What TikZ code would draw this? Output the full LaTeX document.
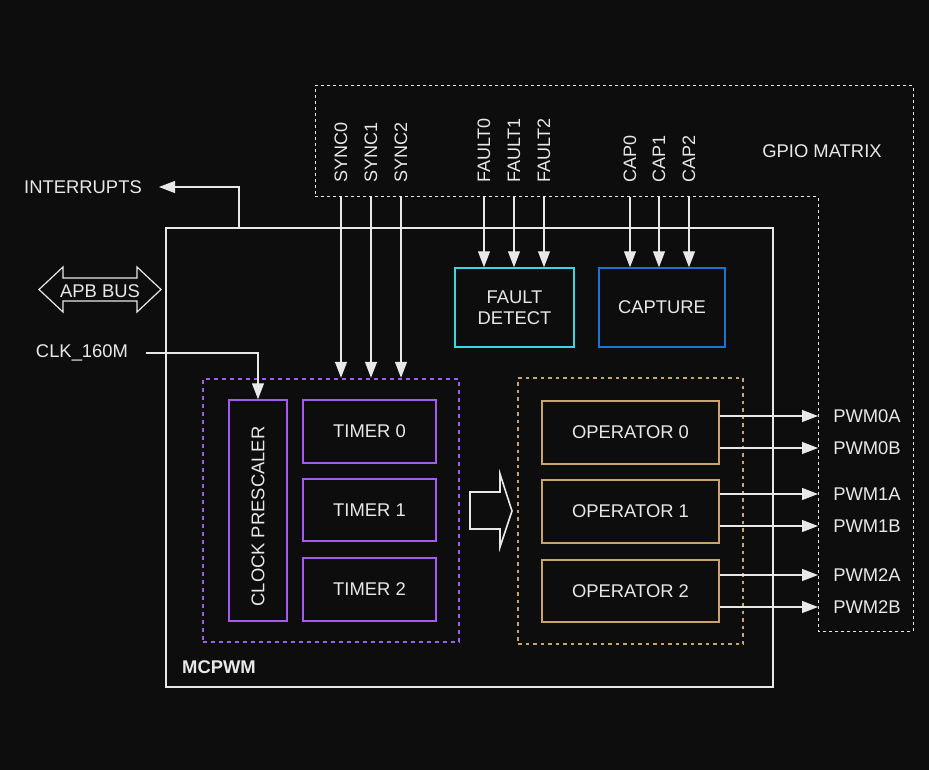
\documentclass[tikz,border=0pt]{standalone}
\usepackage{fontspec}
\setmainfont{Liberation Sans}
\usetikzlibrary{arrows.meta,calc}
\definecolor{bg}{HTML}{0D0D0D}
\definecolor{fg}{HTML}{E8E8E8}
\definecolor{purp}{HTML}{A35CF0}
\definecolor{cyanb}{HTML}{3ED6DE}
\definecolor{blueb}{HTML}{1E74CC}
\definecolor{tanb}{HTML}{C9A46E}
\begin{document}
\begin{tikzpicture}[x=1pt,y=-1pt, font=\fontsize{18.4}{21}\selectfont, text=fg,
  line/.style={draw=fg, line width=1.2pt},
  arr/.style={line, -{Triangle[length=16pt,width=12pt]}},
  blk/.style={draw=#1, line width=1.5pt, inner sep=0pt, align=center},
  dbox/.style={draw=#1, line width=2.4pt, dash pattern=on 4pt off 4pt, inner sep=0pt},
  gpio/.style={draw=fg, line width=1pt, dash pattern=on 3pt off 3pt},
  lbl/.style={inner sep=0pt},
  vlbl/.style={inner sep=0pt, rotate=90, anchor=west, font=\fontsize{18}{21}\selectfont},
]
\fill[bg] (0,0) rectangle (929,770);
\useasboundingbox (0,0) rectangle (929,770);

% GPIO matrix
\draw[gpio] (315,86) -- (913,86) -- (913,631) -- (818,631) -- (818,197) -- (315,197) -- cycle;
\node[lbl] (gpiolbl) at (822,151) {GPIO MATRIX};

% MCPWM
\node[blk=fg, minimum width=607pt, minimum height=459pt] (mcpwm) at (469.5,457.5) {};
\node[lbl, font=\fontsize{18.4}{21}\selectfont\bfseries] (mcpwmlbl) at (219,667) {MCPWM};

% timers group
\node[dbox=purp, minimum width=256pt, minimum height=263pt] (tgrp) at (331,510.5) {};
\node[blk=purp, minimum width=58pt, minimum height=221pt] (clk) at (258,510.5) {};
\node[lbl, rotate=90] (clklbl) at ($(clk.center)+(0,6)$) {CLOCK PRESCALER};
\node[blk=purp, minimum width=133pt, minimum height=63pt] (t0) at (369.5,431.5) {TIMER 0};
\node[blk=purp, minimum width=133pt, minimum height=62pt] (t1) at (369.5,510) {TIMER 1};
\node[blk=purp, minimum width=133pt, minimum height=63pt] (t2) at (369.5,589.5) {TIMER 2};

% fault / capture
\node[blk=cyanb, minimum width=119pt, minimum height=79pt] (fault) at (514.5,307.5) {FAULT\\DETECT};
\node[blk=blueb, minimum width=126pt, minimum height=79pt] (cap) at (662,307.5) {CAPTURE};

% operators group
\node[dbox=tanb, dash pattern=on 3.5pt off 4pt, minimum width=225pt, minimum height=266pt] (ogrp) at (630.5,511) {};
\node[blk=tanb, minimum width=177pt, minimum height=63pt] (o0) at (630.5,432.5) {OPERATOR 0};
\node[blk=tanb, minimum width=177pt, minimum height=63pt] (o1) at (630.5,511.5) {OPERATOR 1};
\node[blk=tanb, minimum width=177pt, minimum height=62pt] (o2) at (630.5,591) {OPERATOR 2};

% big hollow arrow
\draw[line, line width=1.6pt] (470,492) -- (500,492) -- (500,474) -- (512,511) -- (500,547) -- (500,529) -- (470,529) -- cycle;

% input labels and arrows
\foreach \n/\x in {SYNC0/341,SYNC1/371,SYNC2/401}{
  \node[vlbl] (l\n) at (\x,183) {\n};
  \coordinate (c\n) at (\x,197);
  \draw[arr] (c\n) -- (c\n |- tgrp.north);
}
\foreach \n/\x in {FAULT0/484,FAULT1/514,FAULT2/544}{
  \node[vlbl] (l\n) at (\x,183) {\n};
  \coordinate (c\n) at (\x,197);
  \draw[arr] (c\n) -- (c\n |- fault.north);
}
\foreach \n/\x in {CAP0/630,CAP1/659,CAP2/689}{
  \node[vlbl] (l\n) at (\x,183) {\n};
  \coordinate (c\n) at (\x,197);
  \draw[arr] (c\n) -- (c\n |- cap.north);
}

% outputs
\foreach \n/\y/\o in {PWM0A/416/o0,PWM0B/448/o0,PWM1A/494/o1,PWM1B/526/o1,PWM2A/575/o2,PWM2B/607/o2}{
  \coordinate (e\n) at (818,\y);
  \node[lbl] (l\n) at (867,\y) {\n};
  \draw[arr] (\o.east |- e\n) -- (e\n);
}

% interrupts
\node[lbl] (intr) at (83,187) {INTERRUPTS};
\coordinate (intrtip) at (159,187);
\coordinate (intrsrc) at (239,228);
\draw[arr] (intrsrc) -- (intrsrc |- intrtip) -- (intrtip);

% APB bus
\draw[line] (39,289.5) -- (63,267) -- (63,278) -- (137,278) -- (137,267) -- (161,289.5) -- (137,312) -- (137,301) -- (63,301) -- (63,312) -- cycle;
\node[lbl] (apb) at (100,291) {APB BUS};

% clock
\node[lbl] (clkin) at (82,353) {CLK\_160M};
\coordinate (clksrc) at (146,353);
\draw[arr] (clksrc) -- (clksrc -| clk.north) -- (clk.north);
\end{tikzpicture}
\end{document}
